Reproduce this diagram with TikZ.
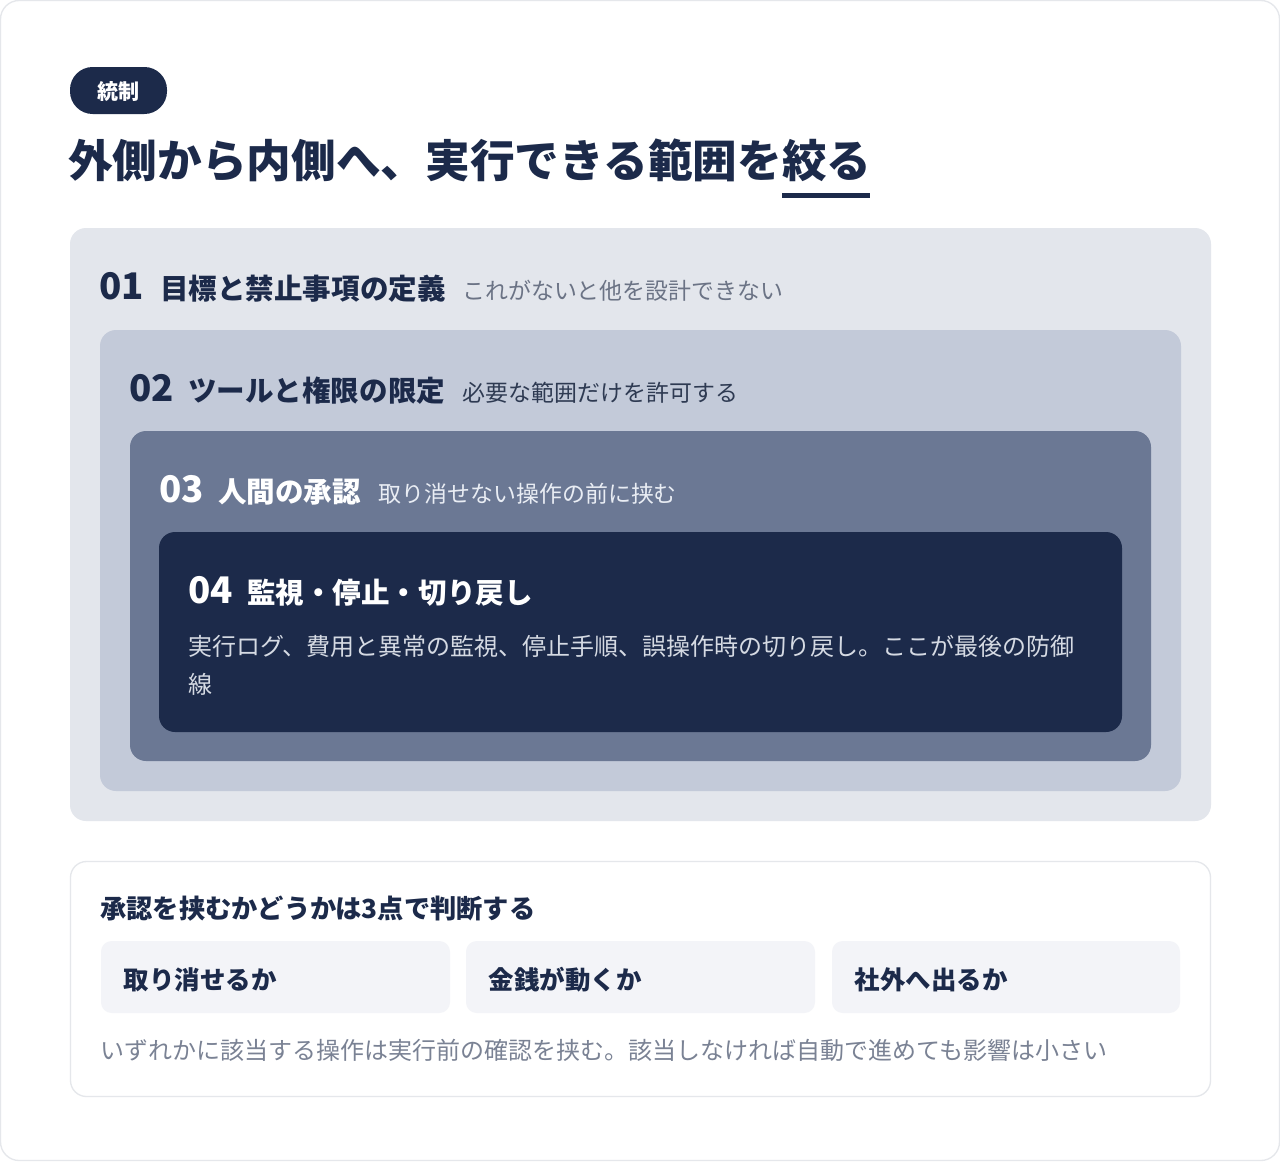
\documentclass[tikz,border=0pt]{standalone}
\usepackage{fontspec}
\setmainfont{Noto Sans CJK JP}
\definecolor{navy}{HTML}{1C2A4A}
\definecolor{lvA}{HTML}{E3E6EC}
\definecolor{lvB}{HTML}{C3CAD9}
\definecolor{lvC}{HTML}{6B7894}
\definecolor{lvD}{HTML}{1C2A4A}
\definecolor{subA}{HTML}{6B7385}
\definecolor{subB}{HTML}{2E3A52}
\definecolor{subC}{HTML}{E9EDF4}
\definecolor{bodyD}{HTML}{D5DAE3}
\definecolor{foot}{HTML}{7A8294}
\definecolor{cell}{HTML}{F3F4F8}
\definecolor{edge}{HTML}{E5E7EB}
\newcommand{\fsz}[1]{\fontsize{#1}{#1}\selectfont}
\begin{document}
\begin{tikzpicture}[x=0.75pt,y=-0.75pt,
  txt/.style={inner sep=0pt,anchor=base west},
  numlab/.style={txt,font=\fsz{27.5pt}\bfseries},
  headlab/.style={txt,font=\fsz{21.4pt}\bfseries},
  sublab/.style={txt,font=\fsz{17.2pt}},
  layer/.style={rounded corners=12pt},
  cellbox/.style={fill=cell,rounded corners=8pt},
  celltext/.style={txt,font=\fsz{19.1pt}\bfseries,text=navy}]
\useasboundingbox (0,0) rectangle (1280,1161);
\fill[white] (0,0) rectangle (1280,1161);
\draw[edge,line width=1pt,rounded corners=14pt] (0.5,0.5) rectangle (1279.5,1160.5);
% pill
\fill[navy,rounded corners=17pt] (70,67) rectangle (167,114);
\node[txt,font=\fsz{15.8pt}\bfseries,text=white,anchor=base] (pill) at (118.5,99) {統制};
% title
\node[txt,font=\fsz{33.5pt}\bfseries,text=navy] (title) at (68,177) {外側から内側へ、実行できる範囲を絞る};
\fill[navy] (782,193) rectangle (870,198);
% layers
\fill[lvA,layer] (70,228) rectangle (1211,821);
\fill[lvB,layer] (100,330) rectangle (1181,791);
\fill[lvC,layer] (130,431) rectangle (1151,761);
\fill[lvD,layer] (159,532) rectangle (1122,732);
% level 1
\node[numlab,text=navy] (n1) at (99,299) {01};
\node[headlab,text=navy] (h1) at (160,299) {目標と禁止事項の定義};
\node[sublab,text=subA] (s1) at (462,299) {これがないと他を設計できない};
% level 2
\node[numlab,text=navy] (n2) at (129,401) {02};
\node[headlab,text=navy] (h2) at (188,401) {ツールと権限の限定};
\node[sublab,text=subB] (s2) at (462.5,401) {必要な範囲だけを許可する};
% level 3
\node[numlab,text=white] (n3) at (159,502) {03};
\node[headlab,text=white] (h3) at (218,502) {人間の承認};
\node[sublab,text=subC] (s3) at (378.5,502) {取り消せない操作の前に挟む};
% level 4
\node[numlab,text=white] (n4) at (188,603) {04};
\node[headlab,text=white] (h4) at (247,603) {監視・停止・切り戻し};
\node[txt,font=\fontsize{18pt}{28.5pt}\selectfont,text=bodyD,align=left] (b4) at (188,693) {実行ログ、費用と異常の監視、停止手順、誤操作時の切り戻し。ここが最後の防御\\線};
% bottom panel
\draw[edge,fill=white,line width=1pt,rounded corners=12pt] (70.5,861.5) rectangle (1210.5,1096.5);
\node[txt,font=\fsz{19.7pt}\bfseries,text=navy] (q) at (100,918) {承認を挟むかどうかは3点で判断する};
\fill[cellbox] (101,941) rectangle (450,1013);
\fill[cellbox] (466,941) rectangle (815,1013);
\fill[cellbox] (832,941) rectangle (1180,1013);
\node[celltext] (c1) at (123.5,989) {取り消せるか};
\node[celltext] (c2) at (488.5,989) {金銭が動くか};
\node[celltext] (c3) at (854.5,989) {社外へ出るか};
\node[txt,font=\fsz{18pt},text=foot] (f) at (100,1059) {いずれかに該当する操作は実行前の確認を挟む。該当しなければ自動で進めても影響は小さい};
\end{tikzpicture}
\end{document}
